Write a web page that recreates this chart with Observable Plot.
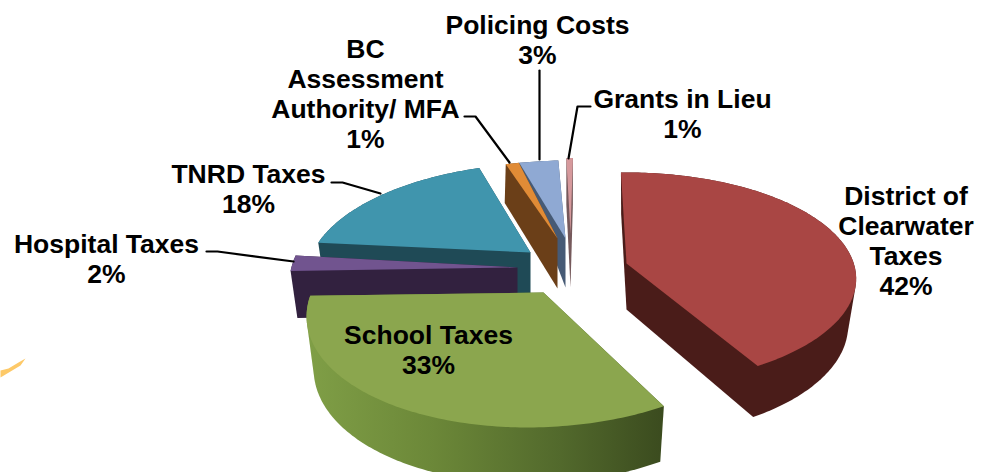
<!DOCTYPE html>
<html>
<head>
<meta charset="utf-8">
<script src="https://cdn.jsdelivr.net/npm/d3@7"></script>
<script src="https://cdn.jsdelivr.net/npm/@observablehq/plot@0.6"></script>
<style>
html,body{margin:0;padding:0;background:#fff;}
svg{display:block;}
</style>
</head>
<body>
<div id="chart"></div>
<script>
// Data
const categories = ["District of Clearwater Taxes","School Taxes","Hospital Taxes","TNRD Taxes","BC Assessment Authority/ MFA","Policing Costs","Grants in Lieu"];
const shares = [42,33,2,18,1,3,1];
const labelTexts = ["District of\nClearwater\nTaxes\n42%","School Taxes\n33%","Hospital Taxes\n2%","TNRD Taxes\n18%","BC\nAssessment\nAuthority/ MFA\n1%","Policing Costs\n3%","Grants in Lieu\n1%"];

// Styling and placement of the exploded 3-D pie
const topColors  = ["#a94644","#8ba64e","#71548f","#4095ad","#e08b36","#8fa9d3","#d6999c"];
const wallColors = ["#4a1c19","url(#greenWall)","#32213f","#1f4a56","#6b3f18","#465a75","#75595b"];
const apexX   = [626,543,517,530,557,565,570];
const apexY   = [263,292,267,252,238,238,233];
const scaleX  = [.955,.975,.95,.915,1,1,.5];
const scaleY  = [1,1.11,1.2,.977,.86,.86,.83];
const shear   = [0,-.12,0,-.155,-.25,-.15,-.07];
const depth   = [46,52,47,45,50,49,54];
const bottomX = [.965,.97,.97,.97,1.02,1,1];
const bottomY = [1.05,1.03,1,1.1,1.15,1.6,1.1];
const drawOrder = [6,5,4,3,2,1,0];
const startAngle = -1.6, R = 238, tilt = .4375, persp = .1435;

// Turns a slice's share of the circle into projected outline points
const ends = d3.cumsum(shares);
function project(i, deg){
  const t = deg*Math.PI/180, X = Math.sin(t), Y = Math.cos(t), s = 1/(1+persp*Y);
  const py = -Y*tilt*R*s*scaleY[i];
  return [X*R*s*scaleX[i] + shear[i]*py, py];
}
function outline(i){
  const a0 = startAngle + 3.6*(ends[i]-shares[i]), a1 = startAngle + 3.6*ends[i];
  const n = Math.max(2, Math.ceil(a1-a0));
  return [[0,0], ...d3.range(n+1).map(k => project(i, a0+(a1-a0)*k/n))];
}
const line = (pts, fill) => Plot.line(pts, {x:d=>d[0], y:d=>d[1], fill, stroke:"none", curve:"linear"});

const sliceMarks = drawOrder.flatMap(i => {
  const o = outline(i);
  const top = o.map(([x,y]) => [apexX[i]+x, apexY[i]+y]);
  const low = o.map(([x,y]) => [apexX[i]+x*bottomX[i], apexY[i]+depth[i]+y*bottomY[i]]);
  return [line(d3.polygonHull([...top,...low]), wallColors[i]), line(top, topColors[i])];
});

// Leader lines and the faint swoosh at the left edge
const leaders = [
  [[206,251],[217,251],[293,261]],
  [[331,182],[342,182],[380,193]],
  [[464,116],[475,116],[509,162]],
  [[539,70],[539,159]],
  [[590,106],[577,106],[568,158]]
];
const swoosh = [[0,370],[8,368],[18,362],[25,358],[20,365],[10,371],[0,377]];

const labelX = [905.5,428,106,248,365,537,682];
const labelY = [240,349,258,188,93,39,112.5];
const labels = categories.map((c,i)=>({text:labelTexts[i], x:labelX[i], y:labelY[i]}));

const defs = () => {
  const d = d3.create("svg:defs");
  const g = d.append("linearGradient").attr("id","greenWall").attr("gradientUnits","userSpaceOnUse")
    .attr("x1",310).attr("x2",667).attr("y1",0).attr("y2",0);
  [[0,"#7f9e46"],[.35,"#6b8738"],[.7,"#52692c"],[1,"#3a4a1e"]].forEach(([o,c]) =>
    g.append("stop").attr("offset",o).attr("stop-color",c));
  return d.node();
};

const chart = Plot.plot({
  width:990, height:472, margin:0,
  style:{background:"#fff", fontFamily:"'Liberation Sans', Arial, sans-serif"},
  x:{domain:[0,990], range:[0,990], axis:null},
  y:{domain:[0,472], range:[0,472], axis:null},
  marks:[
    defs,
    line(swoosh, "#fdc968"),
    ...sliceMarks,
    ...leaders.map(l => Plot.line(l, {x:d=>d[0], y:d=>d[1], stroke:"#000", strokeWidth:2.2, curve:"linear"})),
    Plot.text(labels, {x:"x", y:"y", text:"text", fontSize:26.5, fontWeight:"bold", fill:"#000", lineHeight:1.13, textAnchor:"middle", lineAnchor:"middle"})
  ]
});
document.getElementById("chart").append(chart);
</script>
</body>
</html>
